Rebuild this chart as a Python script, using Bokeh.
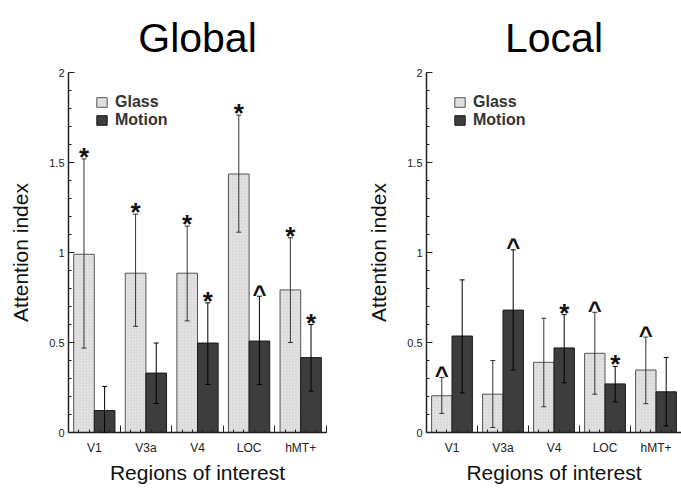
import numpy as np
from bokeh.plotting import figure
from bokeh.layouts import row
from bokeh.models import (Range1d, LinearAxis, SingleIntervalTicker, FixedTicker,
                          NumeralTickFormatter, ColumnDataSource, Whisker, TeeHead,
                          Legend, LegendItem)
from bokeh.core.properties import value
from bokeh.embed import file_html
from bokeh.resources import INLINE

# ---------------- data ----------------
regions = ["V1", "V3a", "V4", "LOC", "hMT+"]
y_ticks = [0, 0.5, 1, 1.5, 2]

global_glass = [0.99, 0.885, 0.885, 1.436, 0.792]
global_glass_hi = [1.52, 1.213, 1.147, 1.763, 1.082]
global_glass_lo = [0.469, 0.59, 0.62, 1.113, 0.50]
global_motion = [0.122, 0.33, 0.497, 0.508, 0.416]
global_motion_hi = [0.256, 0.497, 0.72, 0.757, 0.60]
global_motion_lo = [0.0, 0.161, 0.267, 0.267, 0.23]
global_glass_sig = ["*", "*", "*", "*", "*"]
global_motion_sig = ["", "", "*", "^", "*"]

local_glass = [0.204, 0.213, 0.39, 0.44, 0.347]
local_glass_hi = [0.306, 0.40, 0.635, 0.668, 0.53]
local_glass_lo = [0.106, 0.028, 0.143, 0.213, 0.16]
local_motion = [0.536, 0.68, 0.47, 0.27, 0.226]
local_motion_hi = [0.848, 1.015, 0.655, 0.367, 0.417]
local_motion_lo = [0.22, 0.347, 0.276, 0.17, 0.037]
local_glass_sig = ["^", "", "", "^", "^"]
local_motion_sig = ["", "^", "*", "*", ""]

FONT_NAME = "Liberation Sans"
FONT = value(FONT_NAME)
GLASS_FILL = "#ebebeb"
MOTION_FILL = "#3d3d3d"


def make_panel(title, glass, g_hi, g_lo, motion, m_hi, m_lo, g_sig, m_sig,
               width, border_right):
    p = figure(width=width, height=489, x_range=Range1d(0, 5), y_range=Range1d(0, 2),
               x_axis_type=None, y_axis_type=None, toolbar_location=None,
               output_backend="svg", min_border_left=68, min_border_right=border_right,
               min_border_top=72, min_border_bottom=57, title=title)
    p.title.text_font = FONT_NAME
    p.title.text_font_size = "41px"
    p.title.text_font_style = "normal"
    p.title.text_color = "#000000"
    p.title.align = "center"
    p.title.standoff = 23
    p.outline_line_color = None

    n = len(regions)
    pos = np.arange(n) + 0.5
    xg = pos - 0.2
    xm = pos + 0.2

    # y axis
    yaxis = LinearAxis(ticker=SingleIntervalTicker(interval=0.5, num_minor_ticks=5),
                       formatter=NumeralTickFormatter(format="0.[0]"),
                       axis_label="Attention index")
    yaxis.axis_line_color = "#222222"
    yaxis.axis_line_width = 1.5
    yaxis.major_tick_in = 6
    yaxis.major_tick_out = 0
    yaxis.minor_tick_in = 3
    yaxis.minor_tick_out = 0
    yaxis.major_tick_line_color = "#222222"
    yaxis.minor_tick_line_color = "#222222"
    yaxis.major_label_standoff = 4
    yaxis.major_label_text_font = FONT_NAME
    yaxis.major_label_text_font_size = "11px"
    yaxis.major_label_text_color = "#222222"
    yaxis.axis_label_text_font = FONT_NAME
    yaxis.axis_label_text_font_size = "21px"
    yaxis.axis_label_text_font_style = "normal"
    yaxis.axis_label_text_color = "#111111"
    yaxis.axis_label_standoff = 14
    p.add_layout(yaxis, "left")

    # x axis: line + tall ticks at group boundaries (no labels)
    xaxis1 = LinearAxis(ticker=FixedTicker(ticks=[],
                                           minor_ticks=[float(v) for v in np.arange(n + 1)]))
    xaxis1.axis_line_color = "#222222"
    xaxis1.axis_line_width = 1.5
    xaxis1.major_tick_in = 0
    xaxis1.major_tick_out = 0
    xaxis1.minor_tick_in = 7
    xaxis1.minor_tick_out = 0
    xaxis1.minor_tick_line_color = "#222222"
    xaxis1.major_label_standoff = 0
    p.add_layout(xaxis1, "below")

    # x axis: small ticks + region labels
    small = [float(v) for v in np.arange(0, n + 0.01, 0.2)]
    xaxis2 = LinearAxis(ticker=FixedTicker(ticks=[float(v) for v in pos], minor_ticks=small),
                        major_label_overrides={float(v): r for v, r in zip(pos, regions)},
                        axis_label="Regions of interest")
    xaxis2.axis_line_color = None
    xaxis2.major_tick_line_color = None
    xaxis2.major_tick_in = 0
    xaxis2.major_tick_out = 0
    xaxis2.minor_tick_in = 3
    xaxis2.minor_tick_out = 0
    xaxis2.minor_tick_line_color = "#222222"
    xaxis2.major_label_standoff = 8
    xaxis2.major_label_text_font = FONT_NAME
    xaxis2.major_label_text_font_size = "12px"
    xaxis2.major_label_text_color = "#222222"
    xaxis2.axis_label_text_font = FONT_NAME
    xaxis2.axis_label_text_font_size = "21px"
    xaxis2.axis_label_text_font_style = "normal"
    xaxis2.axis_label_text_color = "#111111"
    xaxis2.axis_label_standoff = 3
    p.add_layout(xaxis2, "below")

    # bars
    rg = p.vbar(x=xg, top=glass, bottom=0, width=0.4, fill_color=GLASS_FILL,
                line_color="#555555", line_width=1, hatch_pattern="/",
                hatch_color="#c2c2c2", hatch_scale=3, hatch_weight=0.6)
    rm = p.vbar(x=xm, top=motion, bottom=0, width=0.4, fill_color=MOTION_FILL,
                line_color="#1a1a1a", line_width=1)

    # error bars
    for xs, hi, lo, col in ((xg, g_hi, g_lo, "#333333"), (xm, m_hi, m_lo, "#000000")):
        src = ColumnDataSource(dict(base=[float(v) for v in xs], upper=hi, lower=lo))
        w = Whisker(base="base", upper="upper", lower="lower", source=src,
                    line_color=col, line_width=1, level="annotation",
                    upper_head=TeeHead(size=5, line_color=col, line_width=1),
                    lower_head=TeeHead(size=5, line_color=col, line_width=1))
        p.add_layout(w)

    # significance markers
    for xs, hi, sig in ((xg, g_hi, g_sig), (xm, m_hi, m_sig)):
        for mark, off, size in (("*", -2, "26px"), ("^", -3, "24px")):
            idx = [i for i, s in enumerate(sig) if s == mark]
            if not idx:
                continue
            p.text(x=[float(xs[i]) for i in idx], y=[hi[i] for i in idx],
                   text=[mark] * len(idx), text_font=FONT, text_font_style="bold",
                   text_font_size=size, text_align="center",
                   text_baseline="alphabetic", y_offset=off, text_color="#111111")

    # legend
    legend = Legend(items=[LegendItem(label="Glass", renderers=[rg]),
                           LegendItem(label="Motion", renderers=[rm])],
                    location=(27, 303))
    legend.label_text_font = FONT_NAME
    legend.label_text_font_size = "16px"
    legend.label_text_font_style = "bold"
    legend.label_text_color = "#333333"
    legend.glyph_width = 13
    legend.glyph_height = 12
    legend.label_height = 18
    legend.spacing = 0
    legend.padding = 4
    legend.margin = 0
    legend.label_standoff = 7
    legend.border_line_color = None
    legend.background_fill_alpha = 0
    p.add_layout(legend)
    return p


p1 = make_panel("Global", global_glass, global_glass_hi, global_glass_lo,
                global_motion, global_motion_hi, global_motion_lo,
                global_glass_sig, global_motion_sig, 358, 32)
p2 = make_panel("Local", local_glass, local_glass_hi, local_glass_lo,
                local_motion, local_motion_hi, local_motion_lo,
                local_glass_sig, local_motion_sig, 323, 0)

p = row(p1, p2)
open("out.html", "w").write(file_html(p, INLINE))
